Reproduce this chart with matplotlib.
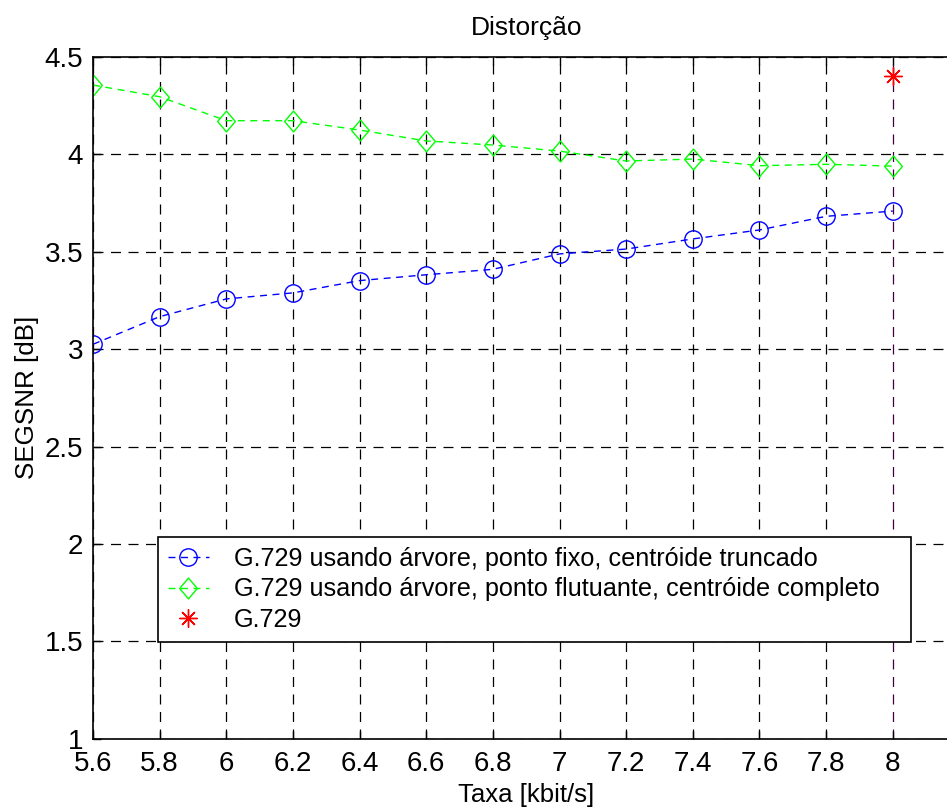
import matplotlib
matplotlib.use("Agg")
import matplotlib.pyplot as plt
from matplotlib.path import Path as MPath
import numpy as np

plt.rcParams["font.family"] = ["Liberation Sans", "DejaVu Sans"]

# data
taxa = [5.6, 5.8, 6.0, 6.2, 6.4, 6.6, 6.8, 7.0, 7.2, 7.4, 7.6, 7.8, 8.0]
fixo_truncado = [3.025, 3.167, 3.258, 3.289, 3.352, 3.382, 3.41, 3.489,
                 3.514, 3.566, 3.612, 3.682, 3.709]
flutuante_completo = [4.356, 4.296, 4.173, 4.173, 4.125, 4.069, 4.048, 4.017,
                      3.966, 3.976, 3.942, 3.949, 3.94]
g729_taxa = [8.0]
g729_segsnr = [4.4]

labels = ["G.729 usando árvore, ponto fixo, centróide truncado",
          "G.729 usando árvore, ponto flutuante, centróide completo",
          "G.729"]

# MATLAB-like diamond (a bit taller than wide)
diamond = MPath([(0, 1), (0.85, 0), (0, -1), (-0.85, 0), (0, 1)],
                [MPath.MOVETO, MPath.LINETO, MPath.LINETO, MPath.LINETO,
                 MPath.CLOSEPOLY])

fig = plt.figure(figsize=(9.47, 8.07), dpi=100)
ax = fig.add_axes([93 / 947, 68.3 / 807, 866.4 / 947, 681.7 / 807])

dash = (0, (5, 4))
ax.plot(taxa, fixo_truncado, color="#0000ff", linestyle=dash, linewidth=1,
        marker="o", markersize=12.5, markerfacecolor="none",
        markeredgewidth=1, label=labels[0])
ax.plot(taxa, flutuante_completo, color="#00ff00", linestyle=dash, linewidth=1,
        marker=diamond, markersize=15, markerfacecolor="none",
        markeredgewidth=1, label=labels[1] + "   ")  # MATLAB pads the box on the right
ax.plot(g729_taxa, g729_segsnr, color="#ff0000", linestyle="none",
        marker=(8, 2, 0), markersize=13, markeredgewidth=1, label=labels[2])

ax.set_xlim(5.6, 8.2)
ax.set_ylim(1, 4.5)
ax.set_xticks(np.arange(5.6, 8.01, 0.2))
ax.set_xticklabels(["5.6", "5.8", "6", "6.2", "6.4", "6.6", "6.8", "7",
                    "7.2", "7.4", "7.6", "7.8", "8"])
ax.set_yticks(np.arange(1, 4.51, 0.5))
ax.set_yticklabels(["1", "1.5", "2", "2.5", "3", "3.5", "4", "4.5"])

ax.grid(True, color="black", linestyle=(0, (8, 6)), linewidth=0.9)
ax.set_axisbelow(True)
xgl = ax.get_xgridlines()
xgl[-1].set_color("#400040")

ax.tick_params(direction="in", top=True, right=True, length=6,
               labelsize=20, width=1)
ax.tick_params(axis="x", pad=9)
ax.tick_params(axis="y", pad=7)
for s in ax.spines.values():
    s.set_linewidth(1.2)

ax.set_title("Distorção", fontsize=19, pad=16)
ax.set_xlabel("Taxa [kbit/s]", fontsize=18.5, labelpad=4)
ax.set_ylabel("SEGSNR [dB]", fontsize=18.7, labelpad=4)

leg = ax.legend(loc="lower left", bbox_to_anchor=(0.075, 0.142),
                borderaxespad=0, fontsize=18.2, fancybox=False,
                framealpha=1, edgecolor="black", handlelength=1.6,
                handletextpad=1.0, labelspacing=0.25, borderpad=0.4)
leg.get_frame().set_linewidth(1.2)

fig.savefig("out.png", dpi=100)
